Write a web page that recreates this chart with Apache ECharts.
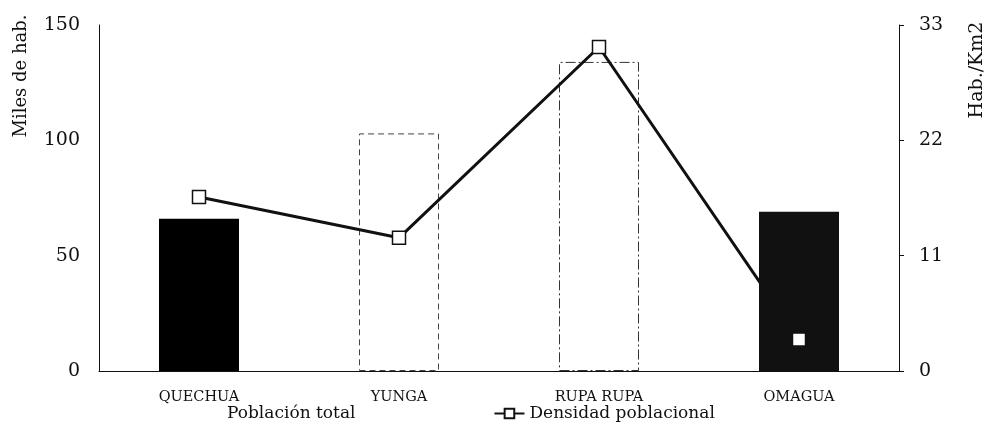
<!DOCTYPE html>
<html>
<head>
<meta charset="utf-8">
<script src="https://cdn.jsdelivr.net/npm/echarts@6/dist/echarts.min.js"></script>
<style>
  html, body { margin: 0; padding: 0; background: #fff; }
  #chart { width: 998px; height: 443px; }
</style>
</head>
<body>
<div id="chart"></div>
<script>
// regiones naturales
var categories = ['QUECHUA', 'YUNGA', 'RUPA RUPA', 'OMAGUA']
// miles de habitantes
var poblacion = [66, 103, 134, 69]
// hab./km2
var densidad = [16.6, 12.7, 30.9, 3.0]
var leftTicks = [0, 50, 100, 150]
var rightTicks = [0, 11, 22, 33]

var serif = 'DejaVu Serif'

// estilo de cada barra (relleno / borde)
var barStyles = [
  { color: '#000', borderColor: '#000', borderWidth: 0 },
  { color: '#fff', borderColor: '#444', borderWidth: 1, borderType: [6, 4] },
  { color: '#fff', borderColor: '#333', borderWidth: 1, borderType: [10, 3, 2, 3] },
  { color: '#111', borderColor: '#111', borderWidth: 0 }
]

var barData = poblacion.map(function (v, i) {
  return { value: v, itemStyle: barStyles[i] }
})

var myChart = echarts.init(document.getElementById('chart'))
var option = {
  animation: false,
  textStyle: { fontFamily: serif },
  grid: { left: 99, right: 99, top: 25, bottom: 72 },
  legend: {
    bottom: 16,
    left: 187,
    itemGap: 138,
    itemWidth: 30,
    itemHeight: 12,
    textStyle: { fontFamily: serif, fontSize: 17, color: '#111' },
    data: ['Población total', 'Densidad poblacional']
  },
  graphic: [
    {
      type: 'text',
      x: 12, y: 76,
      rotation: Math.PI / 2,
      style: { text: 'Miles de hab.', font: '18px "DejaVu Serif"', fill: '#111', align: 'center', verticalAlign: 'top' }
    },
    {
      type: 'text',
      x: 968, y: 70,
      rotation: Math.PI / 2,
      style: { text: 'Hab./Km2', font: '19px "DejaVu Serif"', fill: '#111', align: 'center', verticalAlign: 'top' }
    }
  ],
  xAxis: {
    type: 'category',
    data: categories,
    axisLine: { lineStyle: { color: '#111', width: 1 } },
    axisTick: { show: false },
    axisLabel: { color: '#111', fontSize: 14.5, margin: 19, fontFamily: serif }
  },
  yAxis: [
    {
      type: 'value',
      min: leftTicks[0],
      max: leftTicks[leftTicks.length - 1],
      interval: 50,
      axisLine: { show: true, lineStyle: { color: '#111' } },
      axisTick: { show: false },
      splitLine: { show: false },
      axisLabel: { color: '#111', fontSize: 19, margin: 19, fontFamily: serif }
    },
    {
      type: 'value',
      position: 'right',
      min: rightTicks[0],
      max: rightTicks[rightTicks.length - 1],
      interval: 11,
      axisLine: { show: true, lineStyle: { color: '#111' } },
      axisTick: { show: true, length: 5, lineStyle: { color: '#111' } },
      splitLine: { show: false },
      axisLabel: { color: '#111', fontSize: 19, margin: 20, fontFamily: serif }
    }
  ],
  series: [
    {
      name: 'Población total',
      type: 'bar',
      barWidth: '40%',
      itemStyle: { color: '#fff', borderColor: '#fff', borderWidth: 0 },
      data: barData,
      z: 2
    },
    {
      name: 'Densidad poblacional',
      type: 'line',
      yAxisIndex: 1,
      data: densidad,
      symbol: 'rect',
      symbolSize: 13,
      itemStyle: { color: '#fff', borderColor: '#111', borderWidth: 1.5 },
      lineStyle: { color: '#111', width: 3 },
      z: 3
    }
  ]
}
myChart.setOption(option)
</script>
</body>
</html>
